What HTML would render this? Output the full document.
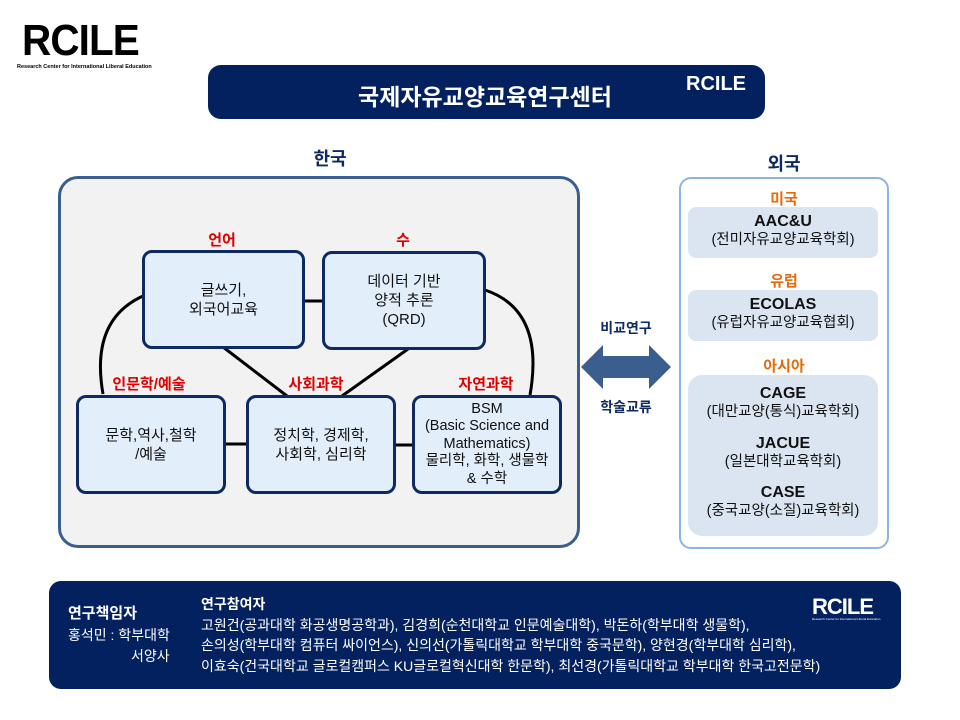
<!DOCTYPE html>
<html><head><meta charset="utf-8"><style>
body{margin:0;width:960px;height:720px;background:#fff;position:relative;overflow:hidden;font-family:"Liberation Sans","Noto Sans CJK KR",sans-serif}
.a{position:absolute}
.box{position:absolute;background:#e3eefb;border:3px solid #0d2a63;border-radius:10px;box-sizing:border-box;display:flex;align-items:center;justify-content:center;text-align:center;font-size:15px;line-height:19px;color:#111}
.red{position:absolute;color:#e00000;font-weight:bold;font-size:15px;text-align:center}
.org{position:absolute;color:#e36c0a;font-weight:bold;font-size:15px;text-align:center;width:210px;left:679px}
.sub{position:absolute;left:688px;width:190px;background:#dbe5f1;border-radius:8px;text-align:center;font-size:14.5px;line-height:18px;color:#111}
.sub b{font-size:16px}
</style></head><body>
<div class="a" style="left:22px;top:18px;font-size:44px;font-weight:bold;letter-spacing:-1px;line-height:46px;transform:scaleX(0.92);transform-origin:left">RCILE</div>
<div class="a" style="left:17px;top:64px;font-size:5.5px;font-weight:bold;white-space:nowrap">Research Center for International Liberal Education</div>
<div class="a" style="left:208px;top:65px;width:557px;height:54px;background:#03215e;border-radius:13px"></div>
<div class="a" style="left:320px;top:78px;width:330px;color:#fff;font-weight:bold;font-size:23px;text-align:center">국제자유교양교육연구센터</div>
<div class="a" style="left:686px;top:73px;color:#fff;font-weight:bold;font-size:20px">RCILE</div>
<div class="a" style="left:280px;top:145px;width:100px;text-align:center;color:#0d2a63;font-weight:bold;font-size:18px">한국</div>
<div class="a" style="left:734px;top:150px;width:100px;text-align:center;color:#0d2a63;font-weight:bold;font-size:18px">외국</div>
<div class="a" style="left:58px;top:176px;width:522px;height:372px;box-sizing:border-box;border:3px solid #3a5f8f;border-radius:20px;background:#f2f2f2"></div>
<svg class="a" style="left:0;top:0" width="960" height="720">
<g stroke="#000" stroke-width="3" fill="none">
<line x1="304" y1="301" x2="322" y2="301"/><line x1="224" y1="444" x2="247" y2="444"/><line x1="394" y1="445" x2="413" y2="445"/>
<line x1="223" y1="347" x2="287" y2="396"/><line x1="408" y1="349" x2="342" y2="396"/>
<path d="M143 296 Q90 320 103 394"/><path d="M485 290 Q545 310 530 395"/>
</g>
<polygon points="581,367 603,345 603,356 649,356 649,345 671,367 649,389 649,378 603,378 603,389" fill="#3a5f8f"/>
</svg>
<div class="box" style="left:142px;top:250px;width:163px;height:99px">글쓰기,<br>외국어교육</div>
<div class="box" style="left:322px;top:251px;width:164px;height:99px">데이터 기반<br>양적 추론<br>(QRD)</div>
<div class="box" style="left:76px;top:395px;width:150px;height:99px">문학,역사,철학<br>/예술</div>
<div class="box" style="left:246px;top:395px;width:150px;height:99px">정치학, 경제학,<br>사회학, 심리학</div>
<div class="box" style="left:412px;top:395px;width:150px;height:99px;line-height:17.5px;font-size:14.5px">BSM<br>(Basic Science and<br>Mathematics)<br>물리학, 화학, 생물학<br>&amp; 수학</div>
<div class="red" style="left:182px;top:229px;width:80px">언어</div>
<div class="red" style="left:363px;top:229px;width:80px">수</div>
<div class="red" style="left:99px;top:373px;width:100px">인문학/예술</div>
<div class="red" style="left:266px;top:373px;width:100px">사회과학</div>
<div class="red" style="left:436px;top:373px;width:100px">자연과학</div>
<div class="a" style="left:586px;top:318px;width:80px;text-align:center;color:#0d2a63;font-weight:bold;font-size:14px">비교연구</div>
<div class="a" style="left:586px;top:397px;width:80px;text-align:center;color:#0d2a63;font-weight:bold;font-size:14px">학술교류</div>
<div class="a" style="left:679px;top:177px;width:210px;height:372px;box-sizing:border-box;border:2.5px solid #8db3e2;border-radius:12px;background:#fff"></div>
<div class="org" style="top:188px">미국</div>
<div class="sub" style="top:207px;height:51px;padding-top:6px;box-sizing:border-box"><b>AAC&amp;U</b><br>(전미자유교양교육학회)</div>
<div class="org" style="top:270px">유럽</div>
<div class="sub" style="top:290px;height:51px;padding-top:6px;box-sizing:border-box"><b>ECOLAS</b><br>(유럽자유교양교육협회)</div>
<div class="org" style="top:355px">아시아</div>
<div class="sub" style="top:375px;height:161px;padding-top:10px;box-sizing:border-box;border-radius:14px"><b>CAGE</b><br>(대만교양(통식)교육학회)<div style="height:14px"></div><b>JACUE</b><br>(일본대학교육학회)<div style="height:13px"></div><b>CASE</b><br>(중국교양(소질)교육학회)</div>
<div class="a" style="left:49px;top:581px;width:852px;height:108px;background:#03215e;border-radius:12px"></div>
<div class="a" style="left:68px;top:602px;color:#fff;font-weight:bold;font-size:15px">연구책임자</div>
<div class="a" style="left:68px;top:625px;color:#fff;font-size:14px;line-height:21px">홍석민 : 학부대학<br><span style="padding-left:63px">서양사</span></div>
<div class="a" style="left:201px;top:594px;color:#fff;font-size:14px;line-height:20.5px;white-space:nowrap"><b>연구참여자</b><br>고원건(공과대학 화공생명공학과), 김경희(순천대학교 인문예술대학), 박돈하(학부대학 생물학),<br>손의성(학부대학 컴퓨터 싸이언스), 신의선(가톨릭대학교 학부대학 중국문학), 양현경(학부대학 심리학),<br>이효숙(건국대학교 글로컬캠퍼스 KU글로컬혁신대학 한문학), 최선경(가톨릭대학교 학부대학 한국고전문학)</div>
<div class="a" style="left:812px;top:594px;color:#fff;font-weight:bold;font-size:22px;letter-spacing:-1px">RCILE</div>
<div class="a" style="left:812px;top:617px;color:#fff;font-size:3px;white-space:nowrap">Research Center for International Liberal Education</div>
</body></html>
